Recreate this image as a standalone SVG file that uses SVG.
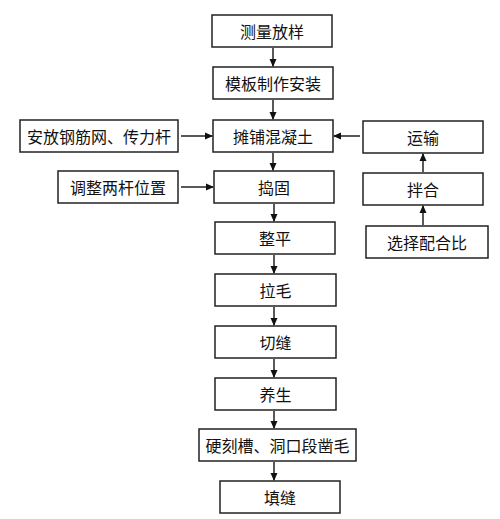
<svg xmlns="http://www.w3.org/2000/svg" width="500" height="519" viewBox="0 0 500 519">
<style>
.box{fill:#fff;stroke:#222;stroke-width:1.5}
.t{font-family:"Noto Sans CJK SC","Noto Sans CJK JP",sans-serif;font-size:16px;fill:#111;text-anchor:middle;dominant-baseline:central}
.c{stroke:#222;stroke-width:1.5;fill:none;marker-end:url(#ah)}
</style>
<defs>
<marker id="ah" markerWidth="8" markerHeight="8" refX="7" refY="4" orient="auto" markerUnits="userSpaceOnUse">
<path d="M0,0.5 L8,4 L0,7.5 Z" fill="#111"/>
</marker>
</defs>
<rect width="500" height="519" fill="#fff"/>
<g id="n1"><rect class="box" x="212" y="15" width="120" height="32"/><text class="t" x="272" y="31">测量放样</text></g>
<g id="n2"><rect class="box" x="213" y="67" width="120" height="32"/><text class="t" x="273" y="83">模板制作安装</text></g>
<g id="n3"><rect class="box" x="213" y="120" width="120" height="32"/><text class="t" x="273" y="136">摊铺混凝土</text></g>
<g id="nL1"><rect class="box" x="20" y="120" width="158" height="32"/><text class="t" x="99" y="136">安放钢筋网、传力杆</text></g>
<g id="nR1"><rect class="box" x="363" y="121" width="120" height="32"/><text class="t" x="423" y="137">运输</text></g>
<g id="n4"><rect class="box" x="214" y="171" width="120" height="32"/><text class="t" x="274" y="187">捣固</text></g>
<g id="nL2"><rect class="box" x="58" y="171" width="120" height="32"/><text class="t" x="118" y="187">调整两杆位置</text></g>
<g id="nR2"><rect class="box" x="363" y="173" width="120" height="32"/><text class="t" x="423" y="189">拌合</text></g>
<g id="n5"><rect class="box" x="215" y="222" width="120" height="32"/><text class="t" x="275" y="238">整平</text></g>
<g id="nR3"><rect class="box" x="366" y="226" width="122" height="32"/><text class="t" x="427" y="242">选择配合比</text></g>
<g id="n6"><rect class="box" x="215" y="274" width="121" height="32"/><text class="t" x="275.5" y="290">拉毛</text></g>
<g id="n7"><rect class="box" x="215" y="326" width="121" height="32"/><text class="t" x="275.5" y="342">切缝</text></g>
<g id="n8"><rect class="box" x="215" y="378" width="121" height="32"/><text class="t" x="275.5" y="394">养生</text></g>
<g id="n9"><rect class="box" x="199" y="429" width="157" height="32"/><text class="t" x="277.5" y="445">硬刻槽、洞口段凿毛</text></g>
<g id="n10"><rect class="box" x="220" y="481" width="120" height="32"/><text class="t" x="280" y="497">填缝</text></g>
<g id="connectors">
<line class="c" x1="273" y1="48" x2="273" y2="66"/>
<line class="c" x1="273" y1="100" x2="273" y2="119"/>
<line class="c" x1="181" y1="136" x2="212" y2="136"/>
<line class="c" x1="360" y1="136" x2="334" y2="136"/>
<line class="c" x1="273" y1="153" x2="273" y2="170"/>
<line class="c" x1="181" y1="187" x2="213" y2="187"/>
<line class="c" x1="423" y1="172" x2="423" y2="154"/>
<line class="c" x1="423" y1="225" x2="423" y2="206"/>
<line class="c" x1="274" y1="204" x2="274" y2="221"/>
<line class="c" x1="274" y1="255" x2="274" y2="273"/>
<line class="c" x1="274" y1="307" x2="274" y2="325"/>
<line class="c" x1="274" y1="359" x2="274" y2="377"/>
<line class="c" x1="274" y1="411" x2="274" y2="428"/>
<line class="c" x1="274" y1="462" x2="274" y2="480"/>
</g>
</svg>
